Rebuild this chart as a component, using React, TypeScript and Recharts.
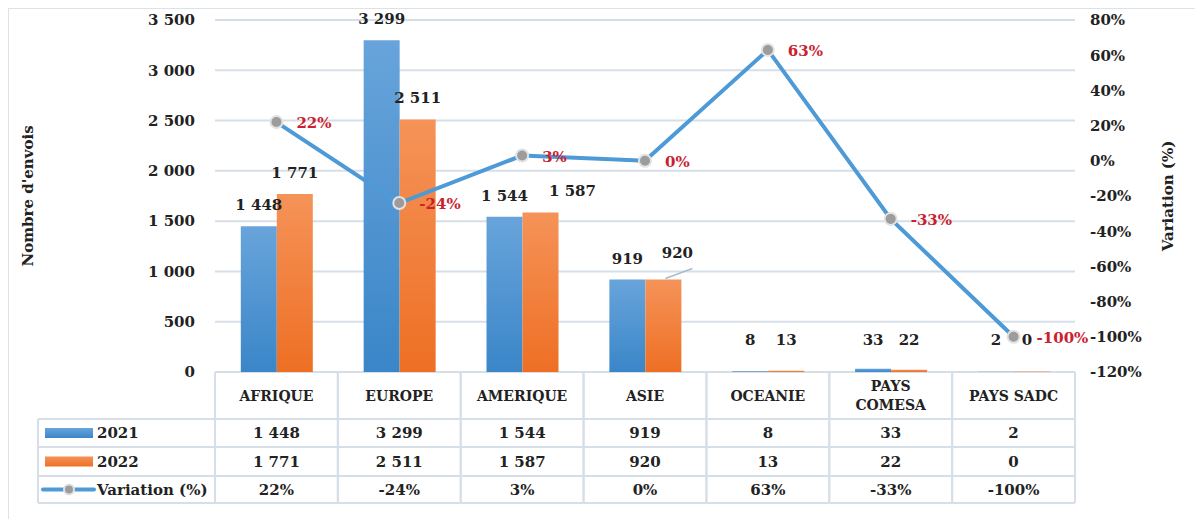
import React from 'react';
import { ComposedChart, Bar, Line, XAxis, YAxis, CartesianGrid, LabelList } from 'recharts';

const categories = ['AFRIQUE', 'EUROPE', 'AMERIQUE', 'ASIE', 'OCEANIE', 'PAYS COMESA', 'PAYS SADC'];
const values2021 = [1448, 3299, 1544, 919, 8, 33, 2];
const values2022 = [1771, 2511, 1587, 920, 13, 22, 0];
const variation = [22, -24, 3, 0, 63, -33, -100];
const countTicks = [0, 500, 1000, 1500, 2000, 2500, 3000, 3500];
const pctTicks = [-120, -100, -80, -60, -40, -20, 0, 20, 40, 60, 80];

const data = categories.map((name, i) => ({
  name,
  y2021: values2021[i],
  y2022: values2022[i],
  variation: variation[i],
}));

const FONT = '"DejaVu Serif", serif';
const INK = '#222222';
const RED = '#c9212e';
const GRID = '#d6dfe8';
const BLUE_LINE = '#4d9ad7';
const PLOT_W = 860;
const COL_W = PLOT_W / categories.length;
const LEGEND_LEFT = 29;

const fmt = (n: number) => String(n).replace(/\B(?=(\d{3})+(?!\d))/g, ' ');

// bottom table: header row + 3 value rows, drawn one column per tick
const ROWS = [47, 75, 104, 131];

const TableTick = (props: any) => {
  const { x, y, payload } = props;
  const i = payload.index;
  const left = x - COL_W / 2;
  const right = x + COL_W / 2;
  const top = y;
  const label: string = payload.value;
  const lines = label.length > 10 ? label.split(' ') : [label];
  const rowMid = (a: number, b: number) => top + (a + b) / 2;
  const cell = { fontFamily: FONT, fontWeight: 700, fontSize: 15, fill: INK, textAnchor: 'middle' as const, dominantBaseline: 'central' as const };
  return (
    <g>
      <line x1={left} x2={left} y1={top} y2={top + ROWS[3]} stroke={GRID} strokeWidth={2} />
      <line x1={right} x2={right} y1={top} y2={top + ROWS[3]} stroke={GRID} strokeWidth={2} />
      {ROWS.map((r) => (
        <line key={r} x1={left} x2={right} y1={top + r} y2={top + r} stroke={GRID} strokeWidth={2} />
      ))}
      {lines.map((t, k) => (
        <text key={k} {...cell} fontSize={14} x={x} y={top + ROWS[0] / 2 + (k - (lines.length - 1) / 2) * 19}>{t}</text>
      ))}
      <text {...cell} x={x} y={rowMid(ROWS[0], ROWS[1])}>{fmt(values2021[i])}</text>
      <text {...cell} x={x} y={rowMid(ROWS[1], ROWS[2])}>{fmt(values2022[i])}</text>
      <text {...cell} x={x} y={rowMid(ROWS[2], ROWS[3])}>{variation[i]}%</text>
      {i === 0 && (
        <g>
          <line x1={LEGEND_LEFT} x2={LEGEND_LEFT} y1={top + ROWS[0]} y2={top + ROWS[3]} stroke={GRID} strokeWidth={2} />
          {ROWS.map((r) => (
            <line key={r} x1={LEGEND_LEFT} x2={left} y1={top + r} y2={top + r} stroke={GRID} strokeWidth={2} />
          ))}
          <rect x={LEGEND_LEFT + 7} y={rowMid(ROWS[0], ROWS[1]) - 5} width={48} height={10} fill="url(#blueGrad)" />
          <rect x={LEGEND_LEFT + 7} y={rowMid(ROWS[1], ROWS[2]) - 5} width={48} height={10} fill="url(#orangeGrad)" />
          <line x1={LEGEND_LEFT + 5} x2={LEGEND_LEFT + 56} y1={rowMid(ROWS[2], ROWS[3])} y2={rowMid(ROWS[2], ROWS[3])} stroke={BLUE_LINE} strokeWidth={4} strokeLinecap="round" />
          <circle cx={LEGEND_LEFT + 31} cy={rowMid(ROWS[2], ROWS[3])} r={5} fill="#9c9c9c" stroke="#e2e2e2" strokeWidth={2} />
          <text {...cell} textAnchor="start" x={LEGEND_LEFT + 59} y={rowMid(ROWS[0], ROWS[1])}>2021</text>
          <text {...cell} textAnchor="start" x={LEGEND_LEFT + 59} y={rowMid(ROWS[1], ROWS[2])}>2022</text>
          <text {...cell} textAnchor="start" x={LEGEND_LEFT + 59} y={rowMid(ROWS[2], ROWS[3])}>Variation (%)</text>
        </g>
      )}
    </g>
  );
};

const barLabel = (series: number[], dxFor: (i: number) => number, leader?: number) => (props: any) => {
  const { x, y, width, height, index } = props;
  const cx = x + width / 2;
  const bottom = y + height;
  let ly = Math.min(y - 21, bottom - 32);
  const dx = dxFor(index);
  if (index === leader) ly -= 5;
  return (
    <g>
      {index === leader && (
        <line x1={cx + 2} y1={y - 1} x2={cx + 29} y2={y - 11} stroke="#a9bccd" strokeWidth={1.5} />
      )}
      <text x={cx + dx} y={ly} textAnchor="middle" dominantBaseline="central" fontFamily={FONT} fontWeight={700} fontSize={15} fill={INK}>
        {fmt(series[index])}
      </text>
    </g>
  );
};

const lineLabel = (props: any) => {
  const { x, y, index } = props;
  const gap = index === variation.length - 1 ? 23 : 20;
  return (
    <text x={x + gap} y={y + 1} textAnchor="start" dominantBaseline="central" fontFamily={FONT} fontWeight={700} fontSize={15} fill={RED}>
      {variation[index]}%
    </text>
  );
};

const axisTitle = (text: string, offset: number) => (props: any) => {
  const vb = props.viewBox;
  const cx = vb.x + offset;
  const cy = vb.y + vb.height / 2;
  return (
    <text x={cx} y={cy} transform={`rotate(-90, ${cx}, ${cy})`} textAnchor="middle" dominantBaseline="central" fontFamily={FONT} fontWeight={700} fontSize={15} fill={INK}>
      {text}
    </text>
  );
};

const App: React.FC = () => {
  const tickStyle = { fontFamily: FONT, fontWeight: 700, fontSize: 15, fill: INK };
  return (
    <div style={{ width: 1194, height: 511, boxSizing: 'border-box', borderTop: '1px solid #d9e3ec', borderLeft: '1px solid #d9e3ec', fontFamily: FONT }}>
      <ComposedChart width={1190} height={500} data={data} margin={{ top: 11, right: 0, left: 0, bottom: 0 }} barCategoryGap="21%" barGap={0}>
        <defs>
          <linearGradient id="blueGrad" x1="0" y1="0" x2="0" y2="1">
            <stop offset="0%" stopColor="#68a4db" />
            <stop offset="100%" stopColor="#3a86c8" />
          </linearGradient>
          <linearGradient id="orangeGrad" x1="0" y1="0" x2="0" y2="1">
            <stop offset="0%" stopColor="#f59358" />
            <stop offset="100%" stopColor="#ee6f24" />
          </linearGradient>
        </defs>
        <CartesianGrid yAxisId="left" vertical={false} stroke={GRID} strokeWidth={2} />
        <XAxis dataKey="name" height={137} interval={0} tickLine={false} axisLine={false} tickSize={0} tickMargin={0} tick={<TableTick />} />
        <YAxis yAxisId="left" domain={[0, 3500]} ticks={countTicks} width={206} tickLine={false} axisLine={false} tickSize={0} tickMargin={20} tick={tickStyle} tickFormatter={fmt} label={{ content: axisTitle("Nombre d'envois", 19) }} />
        <YAxis yAxisId="right" orientation="right" domain={[-120, 80]} ticks={pctTicks} width={124} tickLine={false} axisLine={false} tickSize={0} tickMargin={15} tick={{ ...tickStyle, textAnchor: 'start' }} tickFormatter={(v: number) => `${v}%`} label={{ content: axisTitle('Variation (%)', 93) }} />
        <Bar yAxisId="left" dataKey="y2021" fill="url(#blueGrad)" isAnimationActive={false}>
          <LabelList dataKey="y2021" content={barLabel(values2021, () => 0)} />
        </Bar>
        <Bar yAxisId="left" dataKey="y2022" fill="url(#orangeGrad)" minPointSize={0.5} isAnimationActive={false}>
          <LabelList dataKey="y2022" content={barLabel(values2022, (i) => (i === 2 ? 32 : i === 3 ? 14 : i === 6 ? -5 : 0), 3)} />
        </Bar>
        <Line yAxisId="right" dataKey="variation" stroke={BLUE_LINE} strokeWidth={4} dot={{ r: 6, fill: '#9c9c9c', stroke: '#e2e2e2', strokeWidth: 2 }} activeDot={false} isAnimationActive={false}>
          <LabelList dataKey="variation" content={lineLabel} />
        </Line>
      </ComposedChart>
    </div>
  );
};

export default App;
